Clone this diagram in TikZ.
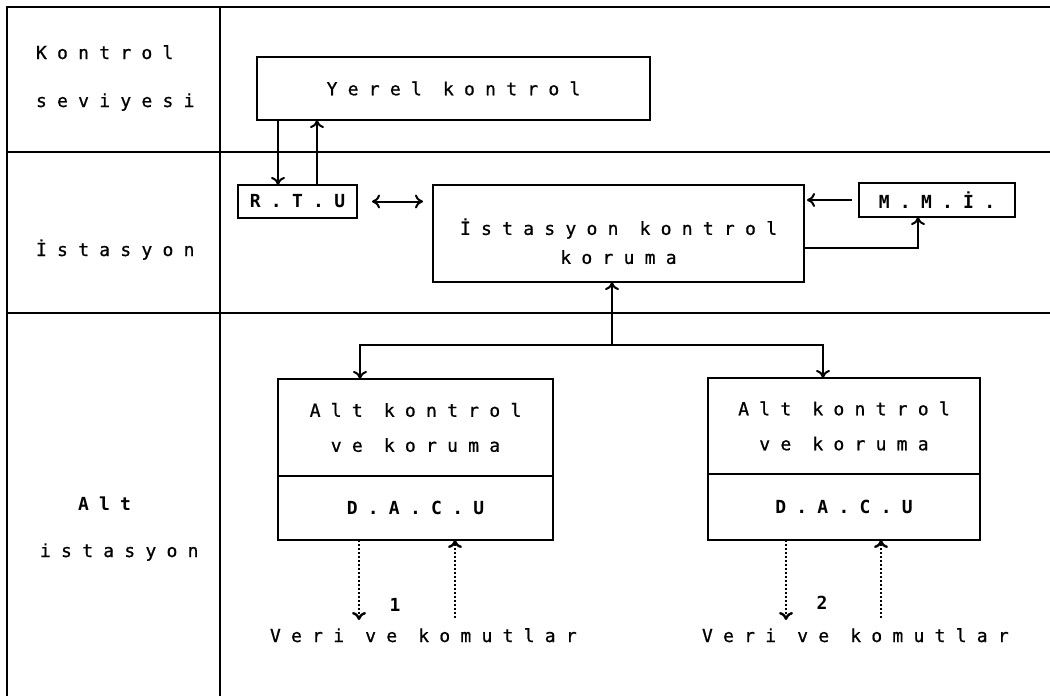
\documentclass[tikz,border=0pt]{standalone}
\usepackage{fontspec}
\usetikzlibrary{arrows.meta}
% nokta vuruşlu yazıcı harfi: eşaralıklı yazı + geniş harf aralığı
\newfontfamily\dmfont[LetterSpace=57,UprightFeatures={FakeBold=0.8}]{DejaVu Sans Mono}
\newcommand{\dmsize}{\fontsize{9pt}{17.5pt}\selectfont}
\newcommand{\dm}{\dmfont\dmsize}

\begin{document}
\begin{tikzpicture}[x=0.5pt,y=-0.5pt,line width=1pt,
  every node/.style={inner sep=0pt,outer sep=0pt,font=\dm},
  kutu/.style={draw,line width=1.25pt,align=center},
  cerceve/.style={line width=1.4pt},
  ok/.style={-{To[length=4pt,width=7pt]}},
  okk/.style={{To[length=4pt,width=7pt]}-{To[length=4pt,width=7pt]}},
  nokta/.style={ok,dash pattern=on 1.1pt off 0.9pt,line width=1.2pt}]
  \path[use as bounding box] (0,0) rectangle (1050,696);  % kaynak 1050x696 px, 1 px = 0.5 pt
  % ---- çerçeve: üst + sol kenar, sütun ayracı, iki seviye çizgisi ----
  \draw[cerceve] (1050,7) -- (7,7) -- (7,696);
  \draw[cerceve] (220,7) -- (220,696);
  \foreach \y in {152,313} \draw[cerceve] (7,\y) -- (1050,\y);
  % ---- sol sütun etiketleri (anchor=base west, px koordinatı) ----
  \node[anchor=base west] (kl1) at (36,59)  {Kontrol};
  \node[anchor=base west] (kl2) at (36,107) {seviyesi};
  \node[anchor=base west] (il)  at (36,256) {İstasyon};
  \node[anchor=base west,font=\dm\bfseries] (al1) at (78,510) {Alt};
  \node[anchor=base west] (al2) at (40,557) {istasyon};
  % ---- kutular: merkez px, boyut pt ----
  \node[kutu,minimum width=196.5pt,minimum height=31.5pt] (yk) at (453.5,88.5) {Yerel kontrol};     % px 257..650 x 57..120
  \node[kutu,minimum width=59.5pt,minimum height=16.5pt,font=\dm\bfseries] (rtu) at (297.5,201.5) {R.T.U}; % px 238..357
  \node[kutu,minimum width=185.5pt,minimum height=48.5pt] (ikk) at (618.5,233.5)
    {\rule{0pt}{16pt}İstasyon kontrol\\[-3pt]koruma};                                                % px 433..804 x 185..282
  \node[kutu,minimum width=78pt,minimum height=17pt,font=\dm\bfseries] (mmi) at (937,200) {M.M.İ.};  % px 859..1015
  \node[kutu,minimum width=137.5pt,minimum height=48.5pt] (akA) at (415.5,427.5) {Alt kontrol\\ve koruma}; % px 278..553
  \node[kutu,minimum width=137.5pt,minimum height=32pt,anchor=north,font=\dm\bfseries] (dcA) at (akA.south) {D.A.C.U};
  \node[kutu,minimum width=136pt,minimum height=48pt] (akB) at (844,426) {Alt kontrol\\ve koruma};     % px 708..980
  \node[kutu,minimum width=136pt,minimum height=33pt,anchor=north,font=\dm\bfseries] (dcB) at (akB.south) {D.A.C.U};
  % ---- bağlantı noktaları ----
  \coordinate (dn1)  at (278,0);    % Yerel -> R.T.U
  \coordinate (up1)  at (317,0);    % R.T.U -> Yerel
  \coordinate (ret)  at (918,248);  % istasyon -> M.M.İ. dönüşü
  \coordinate (tap)  at (612,345);  % alt istasyonlara dağıtım
  \coordinate (tapL) at (360,345);
  \coordinate (tapR) at (823,345);
  \coordinate (oA) at (359,620);  \coordinate (iA) at (455,618);
  \coordinate (oB) at (786,620);  \coordinate (iB) at (881,618);
  % ---- oklar ----
  \draw[ok] (yk.south -| dn1) -- (rtu.north -| dn1);
  \draw[ok] (rtu.north -| up1) -- (yk.south -| up1);
  \draw[okk,shorten <=7.5pt,shorten >=5pt] (rtu.east) -- (ikk.west |- rtu.east);
  \draw[ok,shorten <=3.5pt,shorten >=1.5pt] (mmi.west) -- (ikk.east |- mmi.west);
  \draw[ok] (ikk.east |- ret) -- (ret) -- (ret |- mmi.south);
  \draw[ok] (tap) -- (tap |- ikk.south);
  \draw[ok] (tap) -- (tapL) -- (tapL |- akA.north);
  \draw[ok] (tap) -- (tapR) -- (tapR |- akB.north);
  % ---- veri / komut yolları (noktalı) ----
  \draw[nokta] (dcA.south -| oA) -- (oA);
  \draw[nokta] (iA) -- (iA |- dcA.south);
  \draw[nokta] (dcB.south -| oB) -- (oB);
  \draw[nokta] (iB) -- (iB |- dcB.south);
  \node[font=\dm\bfseries] (n1) at (395,605) {1};
  \node[font=\dm\bfseries] (n2) at (822,603) {2};
  \node[anchor=base west] (vkA) at (270,642) {Veri ve komutlar};
  \node[anchor=base west] (vkB) at (702,642) {Veri ve komutlar};
\end{tikzpicture}
\end{document}
